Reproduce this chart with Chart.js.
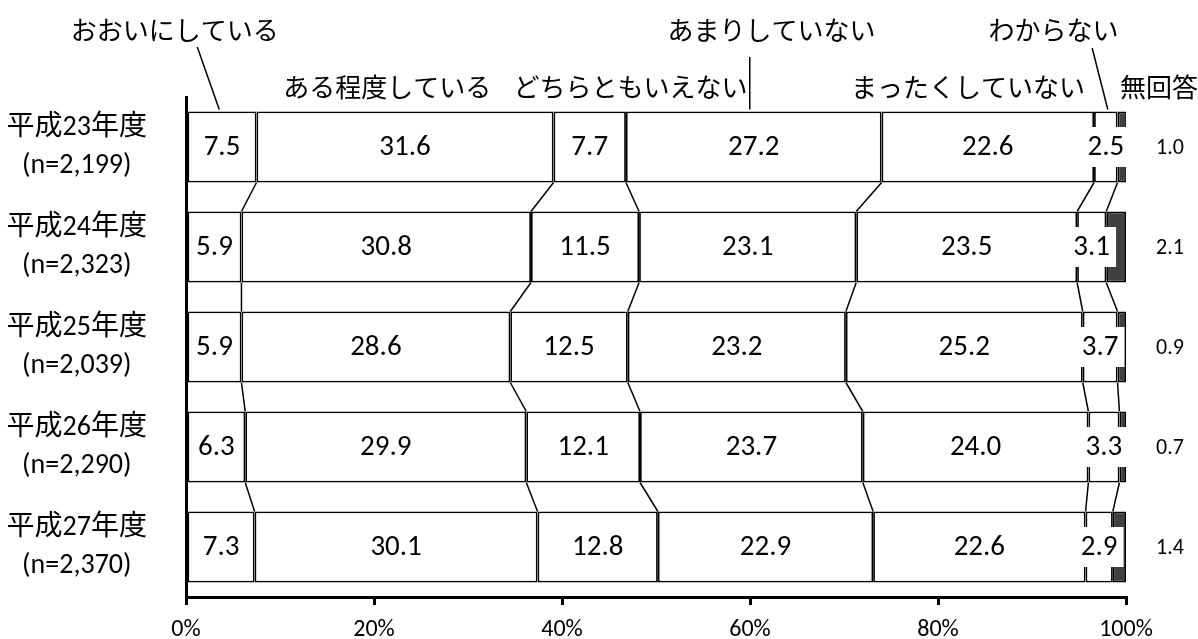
<!DOCTYPE html>
<html lang="ja">
<head>
<meta charset="UTF-8">
<title>取り組み状況の推移</title>
<script src="https://cdn.jsdelivr.net/npm/chart.js"></script>
<style>
    html, body { margin: 0; padding: 0; background: #fff; }
    #wrap { width: 1198px; height: 639px; position: relative; }
</style>
</head>
<body>
<div id="wrap"><canvas id="surveyChart"></canvas></div>

<script>
    // categories (rows)
    const years = ['平成23年度', '平成24年度', '平成25年度', '平成26年度', '平成27年度'];
    const sampleSizes = ['(n=2,199)', '(n=2,323)', '(n=2,039)', '(n=2,290)', '(n=2,370)'];

    // answer names, in stacking order
    const answers = ['おおいにしている', 'ある程度している', 'どちらともいえない', 'あまりしていない', 'まったくしていない', 'わからない', '無回答'];

    // percentages per answer, one value per year
    const ooini    = [7.5, 5.9, 5.9, 6.3, 7.3];
    const aruteido = [31.6, 30.8, 28.6, 29.9, 30.1];
    const dochira  = [7.7, 11.5, 12.5, 12.1, 12.8];
    const amari    = [27.2, 23.1, 23.2, 23.7, 22.9];
    const mattaku  = [22.6, 23.5, 25.2, 24.0, 22.6];
    const wakaranai = [2.5, 3.1, 3.7, 3.3, 2.9];
    const mukaitou = [1.0, 2.1, 0.9, 0.7, 1.4];

    const tickValues = [0, 20, 40, 60, 80, 100];

    const seriesValues = [ooini, aruteido, dochira, amari, mattaku, wakaranai, mukaitou];

    const numFont = 'Carlito, Lato, sans-serif';
    const jpFont = '"Noto Sans CJK JP", "Noto Sans", sans-serif';

    // lines joining the segment edges of neighbouring bars
    const seriesLinesPlugin = {
        id: 'seriesLines',
        afterDatasetsDraw(chart) {
            const ctx = chart.ctx;
            const xs = chart.scales.x;
            const metas = chart.data.datasets.map((d, i) => chart.getDatasetMeta(i));
            ctx.save();
            ctx.strokeStyle = '#000';
            ctx.lineWidth = 1.5;
            for (let r = 0; r < years.length - 1; r++) {
                let cumA = 0, cumB = 0;
                for (let k = 0; k < seriesValues.length - 1; k++) {
                    cumA += seriesValues[k][r];
                    cumB += seriesValues[k][r + 1];
                    const barA = metas[k].data[r];
                    const barB = metas[k].data[r + 1];
                    ctx.beginPath();
                    ctx.moveTo(xs.getPixelForValue(cumA), barA.y + barA.height / 2);
                    ctx.lineTo(xs.getPixelForValue(cumB), barB.y - barB.height / 2);
                    ctx.stroke();
                }
            }
            ctx.restore();
        }
    };

    // value labels with white boxes, 無回答 values to the right
    const valueLabelsPlugin = {
        id: 'valueLabels',
        afterDatasetsDraw(chart) {
            const ctx = chart.ctx;
            ctx.save();
            ctx.textAlign = 'center';
            ctx.textBaseline = 'middle';
            chart.data.datasets.forEach((ds, i) => {
                const meta = chart.getDatasetMeta(i);
                meta.data.forEach((bar, j) => {
                    const txt = ds.data[j].toFixed(1);
                    if (i === seriesValues.length - 1) {
                        ctx.font = '22px ' + numFont;
                        ctx.fillStyle = '#000';
                        ctx.fillText(txt, chart.chartArea.right + 44, bar.y + 1);
                        return;
                    }
                    ctx.font = '29px ' + numFont;
                    const cx = (bar.x + bar.base) / 2;
                    const w = ctx.measureText(txt).width + 12;
                    ctx.fillStyle = '#fff';
                    ctx.fillRect(cx - w / 2, bar.y - 20, w, 40);
                    ctx.fillStyle = '#000';
                    ctx.fillText(txt, cx, bar.y + 1);
                });
            });
            ctx.restore();
        }
    };

    // answer names above the first bar, some with leader lines
    const headerPlugin = {
        id: 'headerLabels',
        afterDraw(chart) {
            const ctx = chart.ctx;
            const xs = chart.scales.x;
            const top = chart.chartArea.top;
            const firstBar = chart.getDatasetMeta(0).data[0];
            const barTop = firstBar.y - firstBar.height / 2;
            // [text x (in %), high row?]
            const place = [[-1.2, true], [21.4, false], [47.3, false], [62.3, true], [83.2, false], [92.3, true], [103.5, false]];
            ctx.save();
            ctx.font = '26px ' + jpFont;
            ctx.fillStyle = '#000';
            ctx.textAlign = 'center';
            ctx.textBaseline = 'middle';
            answers.forEach((name, k) => {
                const y = place[k][1] ? top - 67 : top - 10;
                ctx.fillText(name, xs.getPixelForValue(place[k][0]), y);
            });

            // leader lines to segment centres of first row
            const segCentre = k => {
                let c = 0;
                for (let i = 0; i < k; i++) c += seriesValues[i][0];
                return xs.getPixelForValue(c + seriesValues[k][0] / 2);
            };
            ctx.strokeStyle = '#000';
            ctx.lineWidth = 1.5;
            ctx.beginPath();
            ctx.moveTo(xs.getPixelForValue(1.2), top - 50);
            ctx.lineTo(segCentre(0) - 2, barTop - 2);
            ctx.moveTo(segCentre(3) - 4, top - 40);
            ctx.lineTo(segCentre(3) - 4, barTop - 2);
            ctx.moveTo(xs.getPixelForValue(96.4), top - 49);
            ctx.lineTo(segCentre(5) + 2, barTop - 2);
            ctx.stroke();
            ctx.restore();
        }
    };

    const fills = ['#fff', '#fff', '#fff', '#fff', '#fff', '#fff', '#404040'];

    const ctx = document.getElementById('surveyChart').getContext('2d');
    const surveyChart = new Chart(ctx, {
        type: 'bar',
        data: {
            labels: years.map((y, i) => [y, sampleSizes[i]]),
            datasets: answers.map((name, k) => ({
                label: name,
                data: seriesValues[k],
                backgroundColor: fills[k],
                borderColor: '#000',
                borderWidth: 1.8,
                borderSkipped: false,
                barPercentage: 0.71,
                categoryPercentage: 1
            }))
        },
        options: {
            indexAxis: 'y',
            responsive: true,
            maintainAspectRatio: false,
            animation: false,
            layout: { padding: { top: 97, right: 72, left: 0, bottom: 0 } },
            plugins: {
                legend: { display: false },
                tooltip: { enabled: false }
            },
            scales: {
                x: {
                    stacked: true,
                    min: 0,
                    max: 100,
                    afterBuildTicks: scale => { scale.ticks = tickValues.map(v => ({ value: v })); },
                    afterFit: scale => { scale.height = 42; },
                    border: { display: true, color: '#000', width: 3 },
                    grid: { drawOnChartArea: false, drawTicks: true, tickLength: 8, color: '#000', lineWidth: 3 },
                    ticks: {
                        callback: v => v + '%',
                        color: '#000',
                        padding: 11,
                        maxRotation: 0,
                        font: { family: numFont, size: 24 }
                    }
                },
                y: {
                    stacked: true,
                    afterFit: scale => {
                        scale.width = 186;
                        scale.paddingTop = 0;
                        scale.paddingBottom = 0;
                    },
                    border: { display: true, color: '#000', width: 3 },
                    grid: { display: false },
                    ticks: {
                        color: '#000',
                        crossAlign: 'center',
                        padding: 31,
                        font: { family: 'Carlito, "Noto Sans CJK JP", sans-serif', size: 28, lineHeight: 1.39 }
                    }
                }
            }
        },
        plugins: [seriesLinesPlugin, valueLabelsPlugin, headerPlugin]
    });
</script>
</body>
</html>
